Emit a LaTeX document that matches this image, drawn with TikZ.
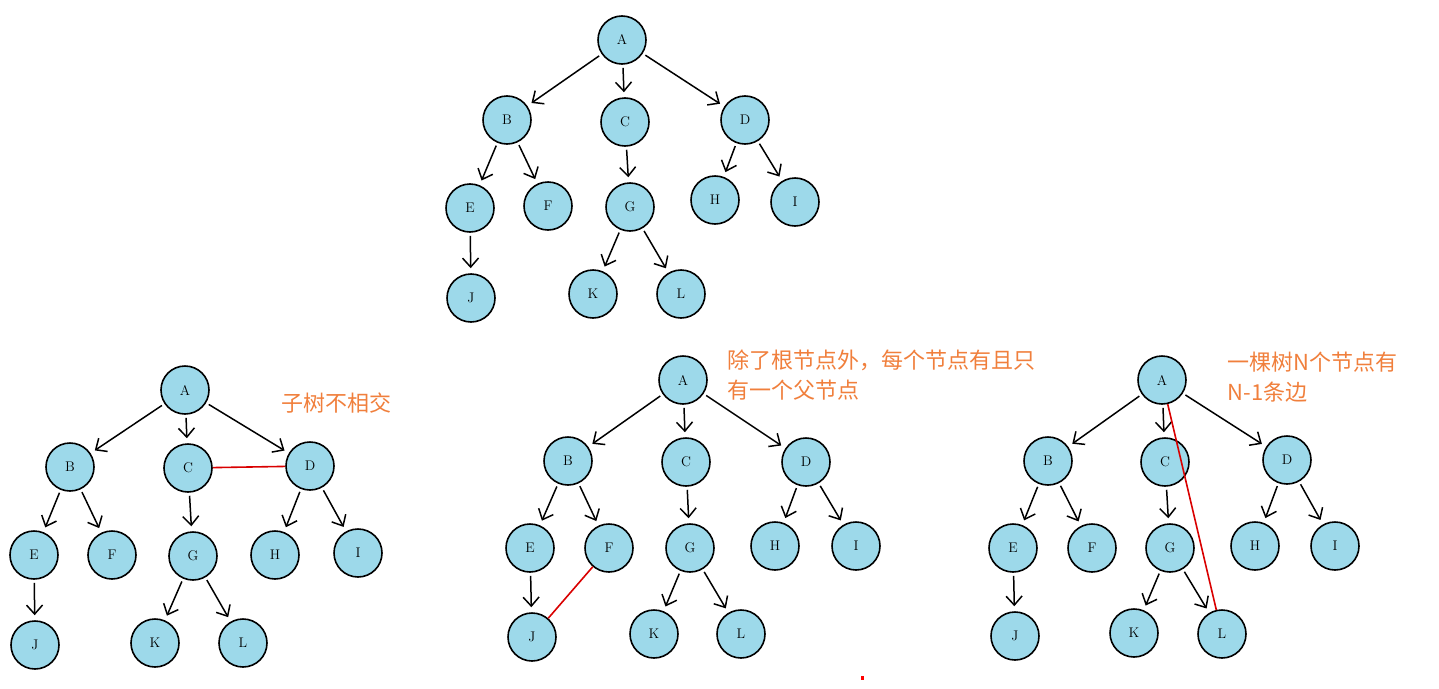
\documentclass[tikz,border=0pt]{standalone}
\usepackage{fontspec}
\newfontfamily\cjk{Noto Sans CJK SC}
\usetikzlibrary{arrows.meta}
\definecolor{nodeblue}{HTML}{9DD9EA}
\definecolor{noteorange}{HTML}{F07F3C}
\tikzset{
  tn/.style={circle,draw=black,line width=1.6pt,fill=nodeblue,minimum size=48pt,inner sep=0pt,font=\fontsize{14}{14}\selectfont},
  ar/.style={-{Straight Barb[length=9pt,width=16pt]},line width=1.5pt,shorten >=5pt,shorten <=3pt},
  rl/.style={red!85!black,line width=1.6pt},
  note/.style={text=noteorange,font=\cjk\fontsize{22}{30}\selectfont,anchor=west,align=left}
}
\newcommand{\mytree}[1]{%
}
\begin{document}
\begin{tikzpicture}[x=1pt,y=-1pt]
\useasboundingbox (0,0) rectangle (1439,688);
% tree builder via foreach lists
\foreach \p/\ax/\ay/\bx/\by/\cx/\cy/\dx/\dy/\ex/\ey/\fx/\fy/\gx/\gy/\hx/\hy/\ix/\iy/\jx/\jy/\kx/\ky/\lx/\ly in {
 t/622/40/507/120/625/122/745/120/470/208/548/206/630/207/715/200/795/202/471/298/593/294/681/294,
 u/185/390/70/467/188/468/310/466/34/555/112/555/193/556/275/555/358/553/35/645/155/643/243/643,
 v/683/380/568/461/686/462/806/462/530/548/609/548/690/548/775/546/856/546/532/637/654/634/741/634,
 w/1162/380/1048/461/1165/462/1287/460/1013/548/1092/548/1170/548/1255/546/1335/546/1015/636/1134/633/1222/634}{
 \node[tn] (\p A) at (\ax,\ay) {A};
 \node[tn] (\p B) at (\bx,\by) {B};
 \node[tn] (\p C) at (\cx,\cy) {C};
 \node[tn] (\p D) at (\dx,\dy) {D};
 \node[tn] (\p E) at (\ex,\ey) {E};
 \node[tn] (\p F) at (\fx,\fy) {F};
 \node[tn] (\p G) at (\gx,\gy) {G};
 \node[tn] (\p H) at (\hx,\hy) {H};
 \node[tn] (\p I) at (\ix,\iy) {I};
 \node[tn] (\p J) at (\jx,\jy) {J};
 \node[tn] (\p K) at (\kx,\ky) {K};
 \node[tn] (\p L) at (\lx,\ly) {L};
 \draw[ar] (\p A) -- (\p B);
 \draw[ar] (\p A) -- (\p C);
 \draw[ar] (\p A) -- (\p D);
 \draw[ar] (\p B) -- (\p E);
 \draw[ar] (\p B) -- (\p F);
 \draw[ar] (\p C) -- (\p G);
 \draw[ar] (\p D) -- (\p H);
 \draw[ar] (\p D) -- (\p I);
 \draw[ar] (\p E) -- (\p J);
 \draw[ar] (\p G) -- (\p K);
 \draw[ar] (\p G) -- (\p L);
}
\draw[rl] (uC) -- (uD);
\draw[rl] (vF) -- (vJ);
\draw[rl] (wA) -- (wL);
\node[note] (n1) at (278,403) {子树不相交};
\node[note] (n2) at (724,375) {除了根节点外，每个节点有且只\\有一个父节点};
\node[note] (n3) at (1224,377) {一棵树N个节点有\\N-1条边};
\fill[red] (861,676) rectangle (864,680);
\end{tikzpicture}
\end{document}
